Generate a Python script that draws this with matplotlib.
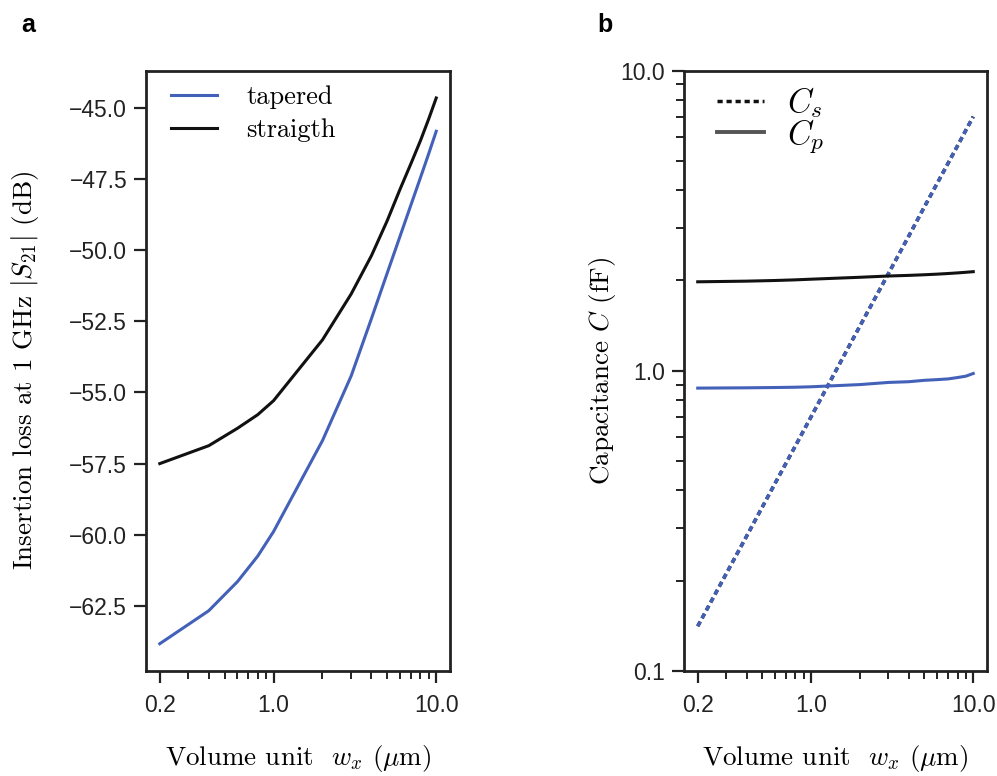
import matplotlib
matplotlib.use("Agg")
import matplotlib.pyplot as plt
from matplotlib.ticker import FixedLocator, FixedFormatter, LogLocator, NullFormatter

# Data
wx = [0.2, 0.4, 0.6, 0.8, 1.0, 2.0, 3.0, 4.0, 5.0, 6.0, 7.0, 8.0, 9.0, 10.0]

loss_tapered = [-63.83, -62.67, -61.65, -60.75, -59.89, -56.69, -54.42,
                -52.4, -50.8, -49.5, -48.4, -47.45, -46.6, -45.82]
loss_straight = [-57.50, -56.87, -56.26, -55.78, -55.29, -53.15, -51.54,
                 -50.19, -48.96, -47.85, -46.95, -46.15, -45.38, -44.65]

cs_tapered = [0.141, 0.281, 0.422, 0.562, 0.703, 1.41, 2.11,
              2.81, 3.52, 4.22, 4.92, 5.62, 6.33, 7.03]
cs_straight = [0.141, 0.281, 0.422, 0.562, 0.703, 1.41, 2.11,
               2.81, 3.52, 4.22, 4.92, 5.62, 6.33, 7.03]
cp_tapered = [0.876, 0.878, 0.880, 0.882, 0.885, 0.900, 0.915,
              0.920, 0.930, 0.935, 0.940, 0.950, 0.960, 0.980]
cp_straight = [1.98, 1.99, 2.00, 2.01, 2.02, 2.05, 2.07,
               2.08, 2.09, 2.10, 2.11, 2.12, 2.13, 2.14]

x_ticks = [0.2, 1.0, 10.0]
x_ticklabels = ["0.2", "1.0", "10.0"]
ya_ticks = [-62.5, -60.0, -57.5, -55.0, -52.5, -50.0, -47.5, -45.0]
ya_ticklabels = ["\u221262.5", "\u221260.0", "\u221257.5", "\u221255.0",
                 "\u221252.5", "\u221250.0", "\u221247.5", "\u221245.0"]
yb_ticks = [0.1, 1.0, 10.0]
yb_ticklabels = ["0.1", "1.0", "10.0"]

BLUE = "#4361b8"
BLACK = "#111111"
SPINE = "#222222"

plt.rcParams['mathtext.fontset'] = 'cm'
plt.rcParams['font.family'] = ['Liberation Sans', 'DejaVu Sans']

SERIF = 'cmr10'
LABEL_FS = 19.5
TICK_FS = 16.5
DASH = (1.5, 1.1)

fig = plt.figure(figsize=(9.97, 7.76), dpi=100)
ax_a = fig.add_axes([0.1464, 0.1353, 0.3050, 0.7736])
ax_b = fig.add_axes([0.6860, 0.1353, 0.3040, 0.7736])


def style_axes(ax):
    for sp in ax.spines.values():
        sp.set_linewidth(2.0)
        sp.set_color(SPINE)
    ax.tick_params(which='major', direction='out', length=8.5, width=1.6,
                   color=SPINE, labelsize=TICK_FS, labelcolor='#222222', pad=5)
    ax.tick_params(which='minor', direction='out', length=5.5, width=1.4,
                   color=SPINE)
    ax.tick_params(axis='x', which='major', pad=8)
    ax.xaxis.set_major_locator(FixedLocator(x_ticks))
    ax.xaxis.set_major_formatter(FixedFormatter(x_ticklabels))
    ax.xaxis.set_minor_locator(LogLocator(base=10, subs=range(2, 10)))
    ax.xaxis.set_minor_formatter(NullFormatter())


# Panel a: insertion loss
ax_a.plot(wx, loss_tapered, color=BLUE, lw=2.2, label='tapered')
ax_a.plot(wx, loss_straight, color=BLACK, lw=2.2, label='straigth')
ax_a.set_xscale('log')
ax_a.set_yticks(ya_ticks)
ax_a.set_yticklabels(ya_ticklabels)
style_axes(ax_a)
ax_a.set_xlabel(r"Volume unit  $w_x$ $(\mu\mathrm{m})$", fontsize=LABEL_FS,
                family=SERIF, labelpad=19)
ax_a.set_ylabel(r"Insertion loss at 1 GHz $|S_{21}|$ (dB)", fontsize=LABEL_FS,
                family=SERIF, labelpad=20)
ax_a.legend(loc='upper left', bbox_to_anchor=(0.04, 0.998), frameon=False,
            handlelength=1.75, handletextpad=1.1, borderaxespad=0.1,
            labelspacing=0.36, prop={'family': SERIF, 'size': 19})

# Panel b: capacitance
ax_b.plot(wx, cs_straight, color=BLACK, lw=2.5, dashes=DASH)
ax_b.plot(wx, cs_tapered, color=BLUE, lw=2.5, dashes=DASH)
ax_b.plot(wx, cp_straight, color=BLACK, lw=2.2)
ax_b.plot(wx, cp_tapered, color=BLUE, lw=2.2)
ax_b.set_xscale('log')
ax_b.set_yscale('log')
ax_b.set_ylim(0.1, 10.0)
style_axes(ax_b)
ax_b.yaxis.set_major_locator(FixedLocator(yb_ticks))
ax_b.yaxis.set_major_formatter(FixedFormatter(yb_ticklabels))
ax_b.yaxis.set_minor_locator(LogLocator(base=10, subs=range(2, 10)))
ax_b.yaxis.set_minor_formatter(NullFormatter())
ax_b.set_xlabel(r"Volume unit  $w_x$ $(\mu\mathrm{m})$", fontsize=LABEL_FS,
                family=SERIF, labelpad=19)
ax_b.set_ylabel(r"Capacitance $C$ (fF)", fontsize=LABEL_FS,
                family=SERIF, labelpad=2)

h_cs, = ax_b.plot([], [], color=BLACK, lw=2.5, dashes=DASH)
h_cp, = ax_b.plot([], [], color='#555555', lw=2.8)
ax_b.legend([h_cs, h_cp], [r"$C_s$", r"$C_p$"], loc='upper left',
            bbox_to_anchor=(0.066, 0.997), frameon=False, handlelength=1.4,
            handletextpad=0.7, borderaxespad=0.0, labelspacing=-0.1,
            fontsize=24)

# Panel letters
fig.text(0.021, 0.968, "a", fontsize=18, fontweight='bold', va='center')
fig.text(0.599, 0.968, "b", fontsize=18, fontweight='bold', va='center')

fig.savefig("out.png", dpi=100)
